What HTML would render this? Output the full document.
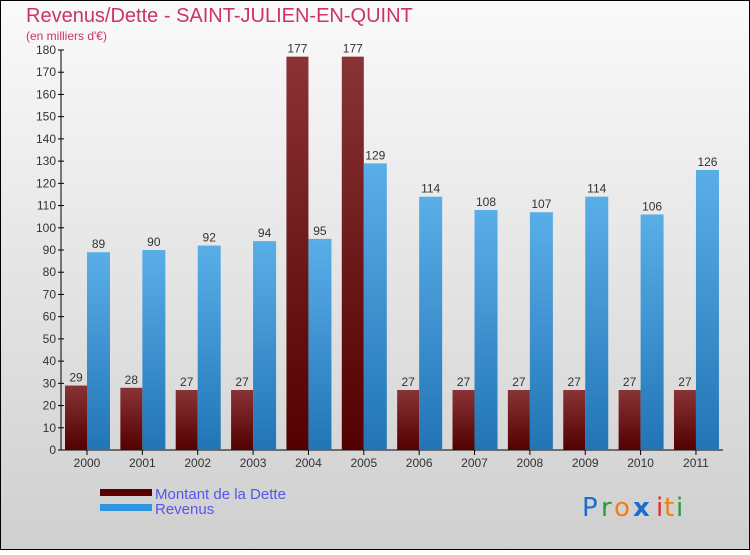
<!DOCTYPE html>
<html><head><meta charset="utf-8"><style>
html,body{margin:0;padding:0}
body{width:750px;height:550px;overflow:hidden;font-family:"Liberation Sans",sans-serif}
</style></head><body>
<svg id="chart" width="750" height="550" xmlns="http://www.w3.org/2000/svg">
<defs>
<linearGradient id="bg" x1="0" y1="0" x2="0" y2="1"><stop offset="0" stop-color="#fafafa"/><stop offset="1" stop-color="#cfcfcf"/></linearGradient>
<linearGradient id="gd" x1="0" y1="0" x2="0" y2="1"><stop offset="0" stop-color="#8a3336"/><stop offset="1" stop-color="#520000"/></linearGradient>
<linearGradient id="gr" x1="0" y1="0" x2="0" y2="1"><stop offset="0" stop-color="#5aaee8"/><stop offset="1" stop-color="#2275b5"/></linearGradient>
</defs>
<rect x="0.5" y="0.5" width="749" height="549" fill="url(#bg)" stroke="#000"/>
<text x="26" y="22" font-size="20" fill="#cc3366">Revenus/Dette - SAINT-JULIEN-EN-QUINT</text>
<text x="26" y="40" font-size="12" fill="#cc3366">(en milliers d'€)</text>
<g id="axes"></g>
<g id="bars"></g>
<rect x="100" y="489" width="52" height="7" fill="#5a0000"/>
<rect x="100" y="504" width="52" height="7" fill="#2e96de"/>
<text x="155" y="499" font-size="15" fill="#5555ee">Montant de la Dette</text>
<text x="155" y="514" font-size="15" fill="#5555ee">Revenus</text>
<g font-size="26" font-family="'DejaVu Sans',sans-serif">
<text x="582" y="516" fill="#1a6fcc">P</text><text x="601" y="516" fill="#2a9a3a">r</text><text x="614" y="516" fill="#f08010">o</text><text x="633" y="516" fill="#1a6fcc" font-weight="bold">x</text><text x="656" y="516" fill="#e03020">i</text><text x="664" y="516" fill="#f08010">t</text><text x="676" y="516" fill="#2a9a3a">i</text>
</g>
</svg>
<script>
const years=["2000","2001","2002","2003","2004","2005","2006","2007","2008","2009","2010","2011"];
const debt=[29,28,27,27,177,177,27,27,27,27,27,27];
const revenue=[89,90,92,94,95,129,114,108,107,114,106,126];
const yTicks=[0,10,20,30,40,50,60,70,80,90,100,110,120,130,140,150,160,170,180];
const NS="http://www.w3.org/2000/svg";
const y=v=>450-v*400/180;
const xc=i=>87+i*55.36;
function mk(t,a,p){const e=document.createElementNS(NS,t);for(const k in a)e.setAttribute(k,a[k]);p.appendChild(e);return e;}
const ax=document.getElementById('axes'),bg=document.getElementById('bars');
const yl=mk('line',{x1:61,y1:y(180),x2:61,y2:450,stroke:'#000'},ax);


const xl=mk('line',{x1:61,y1:450,x2:723,y2:450,stroke:'#000'},ax);


yTicks.forEach(v=>{
 mk('line',{x1:58,x2:64,y1:y(v),y2:y(v),stroke:'#000'},ax);
 const t=mk('text',{x:56,y:y(v)+4,'font-size':12,'text-anchor':'end',fill:'#333'},ax);t.textContent=v;
 
 
});
years.forEach((yr,i)=>{
 const c=xc(i);
 mk('line',{x1:c,x2:c,y1:450,y2:455,stroke:'#000'},ax);
 const t=mk('text',{x:c,y:467,'font-size':12,'text-anchor':'middle',fill:'#333'},ax);t.textContent=yr;
 
 
 const d=mk('rect',{x:c-22,y:y(debt[i]),width:22,height:450-y(debt[i]),fill:'url(#gd)'},bg);
 
 
 const r=mk('rect',{x:c,y:y(revenue[i]),width:23,height:450-y(revenue[i]),fill:'url(#gr)'},bg);
 
 
 const dl=mk('text',{x:c-11,y:y(debt[i])-4,'font-size':12,'text-anchor':'middle',fill:'#333'},bg);dl.textContent=debt[i];
 
 
 const rl=mk('text',{x:c+11.5,y:y(revenue[i])-4,'font-size':12,'text-anchor':'middle',fill:'#333'},bg);rl.textContent=revenue[i];
 
 
});
</script>
</body></html>
